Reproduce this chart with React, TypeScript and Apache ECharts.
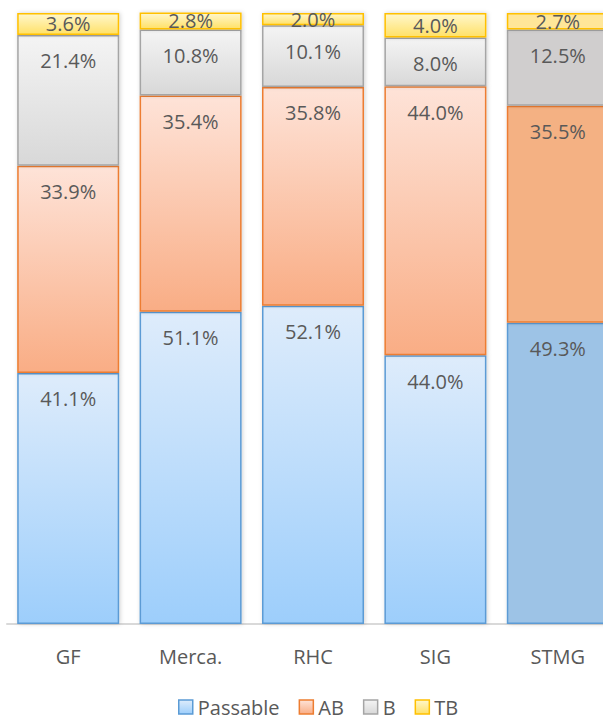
import React, { useEffect, useRef } from "react";
import * as echarts from "echarts";

const categories = ["GF", "Merca.", "RHC", "SIG", "STMG"];
const passable = [41.1, 51.1, 52.1, 44.0, 49.3];
const ab = [33.9, 35.4, 35.8, 44.0, 35.5];
const b = [21.4, 10.8, 10.1, 8.0, 12.5];
const tb = [3.6, 2.8, 2.0, 4.0, 2.7];

const FONT = "'Open Sans', sans-serif";
const LABEL_COLOR = "#595959";

const grad = (top: string, bottom: string) =>
  new echarts.graphic.LinearGradient(0, 0, 0, 1, [
    { offset: 0, color: top },
    { offset: 1, color: bottom },
  ]);

const seriesDefs = [
  { name: "Passable", values: passable, top: "#deecfb", bottom: "#9dcefb", border: "#5b9bd5", solid: "#9dc3e6", pos: "insideTop" },
  { name: "AB", values: ab, top: "#fee3d8", bottom: "#f9ad85", border: "#ed7d31", solid: "#f4b183", pos: "insideTop" },
  { name: "B", values: b, top: "#f4f4f4", bottom: "#d8d8d8", border: "#a5a5a5", solid: "#d0cece", pos: "insideTop" },
  { name: "TB", values: tb, top: "#fff7cc", bottom: "#ffe168", border: "#ffc000", solid: "#ffe699", pos: "inside" },
];

export default function App() {
  const ref = useRef<HTMLDivElement>(null);
  useEffect(() => {
    if (!ref.current) return;
    const chart = echarts.init(ref.current, null, { renderer: "svg" });
    const series = seriesDefs.map((s) => ({
      name: s.name,
      type: "bar",
      stack: "total",
      barWidth: 102,
      data: s.values.map((v, i) =>
        i === 4 ? { value: v, itemStyle: { color: s.solid } } : v
      ),
      itemStyle: {
        color: grad(s.top, s.bottom),
        borderColor: s.border,
        borderWidth: 1.5,
        shadowBlur: 4,
        shadowColor: "rgba(0,0,0,0.18)",
        shadowOffsetX: 1,
      },
      label: {
        show: true,
        position: s.pos,
        distance: 16,
        formatter: (p: any) => Number(p.value).toFixed(1) + "%",
        fontFamily: FONT,
        fontSize: 20,
        color: LABEL_COLOR,
      },
    }));
    chart.setOption({
      animation: false,
      grid: { left: 7, right: 0, top: 13, bottom: 95 },
      xAxis: {
        type: "category",
        data: categories,
        axisLine: { lineStyle: { color: "#d9d9d9", width: 2 } },
        axisTick: { show: false },
        axisLabel: { fontFamily: FONT, fontSize: 20, color: LABEL_COLOR, margin: 22 },
      },
      yAxis: { type: "value", min: 0, max: 100, show: false, splitLine: { show: false } },
      legend: {
        left: 178,
        top: 697,
        itemWidth: 14,
        itemHeight: 14,
        itemGap: 19,
        icon: "rect",
        padding: 0,
        textStyle: { fontFamily: FONT, fontSize: 20, color: LABEL_COLOR, lineHeight: 20 },
        data: seriesDefs.map((s) => ({
          name: s.name,
          itemStyle: { color: grad(s.top, s.bottom), borderColor: s.border, borderWidth: 1.5 },
        })),
      },
      series,
    });
    return () => chart.dispose();
  }, []);
  return (
    <div style={{ position: "fixed", left: 0, top: 0, width: 603, height: 719, overflow: "hidden", background: "#fff" }}>
      <div ref={ref} style={{ width: 619, height: 719 }} />
    </div>
  );
}
